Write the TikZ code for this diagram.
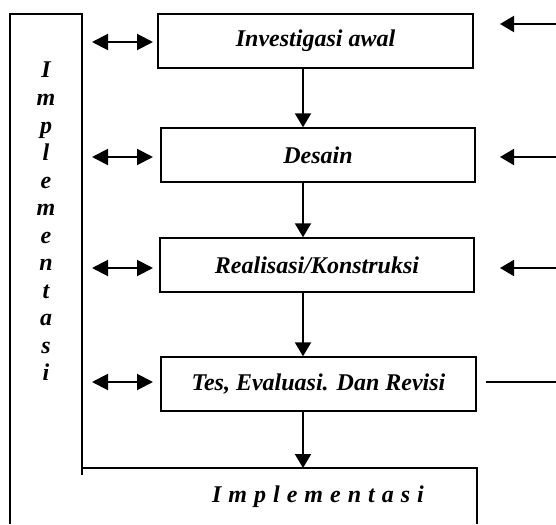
\documentclass[tikz,border=0pt]{standalone}
\usepackage{fontspec}
\setmainfont{Liberation Serif}
\usetikzlibrary{arrows.meta}
\begin{document}
\begin{tikzpicture}[x=1pt,y=-1pt,
  txt/.style={font=\fontsize{24}{28}\selectfont\bfseries\itshape},
  stage/.style={txt,draw,line width=1.4pt,minimum height=54pt,inner sep=0pt},
  frame/.style={line width=1.4pt},
  flow/.style={line width=2pt,-{Triangle[length=14pt,width=16pt]}},
  both/.style={line width=2pt,{Triangle[length=16pt,width=16pt]}-{Triangle[length=16pt,width=16pt]}},
  plain/.style={line width=1.6pt},
  lbl/.style={txt,inner sep=0pt,anchor=base}]
\useasboundingbox (0,0) rectangle (556,524);
% stage boxes
\node[stage,minimum width=315pt] (inv) at (315.5,41) {Investigasi awal};
\node[stage,minimum width=314pt] (des) at (318,155) {Desain};
\node[stage,minimum width=314pt] (rea) at (317,265) {Realisasi/Konstruksi};
\node[stage,minimum width=315pt] (tes) at (318.5,384) {Tes, Evaluasi. Dan Revisi};
% frame
\coordinate (fa) at (82,475);
\coordinate (fb) at (82,14);
\coordinate (fc) at (10,14);
\coordinate (fd) at (10,524);
\coordinate (ba) at (82,468);
\coordinate (bb) at (477,468);
\coordinate (bc) at (477,524);
\draw[frame] (fa) -- (fb) -- (fc) -- (fd);
\draw[frame] (ba) -- (bb) -- (bc);
% vertical label
\foreach \c [count=\i from 0] in {I,m,p,l,e,m,e,n,t,a,s,i}
  \node[lbl] (v\i) at (46,78+27.5*\i) {\c};
% bottom label
\node[lbl] (impl) at (318,502) {I\hspace{7pt}m\hspace{7pt}p\hspace{7pt}l\hspace{7pt}e\hspace{7pt}m\hspace{7pt}e\hspace{7pt}n\hspace{7pt}t\hspace{7pt}a\hspace{7pt}s\hspace{7pt}i};
% down arrows
\coordinate (ax) at (303,0);
\coordinate (bt) at (303,468);
\draw[flow] (inv.south -| ax) -- (des.north -| ax);
\draw[flow] (des.south -| ax) -- (rea.north -| ax);
\draw[flow] (rea.south -| ax) -- (tes.north -| ax);
\draw[flow] (tes.south -| ax) -- (bt);
% double arrows
\coordinate (la) at (92,0);
\coordinate (lb) at (153,0);
\foreach \n/\y in {inv/42,des/157,rea/268,tes/382}{
  \coordinate (l\n) at (0,\y);
  \draw[both] (l\n -| la) -- (l\n -| lb);
}
% right arrows
\coordinate (rt) at (500,0);
\coordinate (re) at (556,0);
\coordinate (r1) at (556,24);
\coordinate (r2) at (556,157);
\coordinate (r3) at (556,268);
\draw[flow] (r1) -- (r1 -| rt);
\draw[flow] (r2) -- (r2 -| rt);
\draw[flow] (r3) -- (r3 -| rt);
\coordinate (r4) at (486,382);
\draw[plain] (r4) -- (r4 -| re);
\end{tikzpicture}
\end{document}
